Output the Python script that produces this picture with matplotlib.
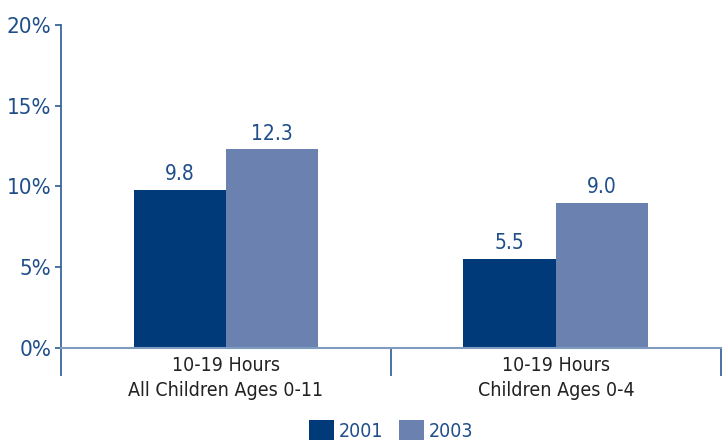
import numpy as np
import matplotlib.pyplot as plt
from matplotlib.ticker import FixedLocator, FuncFormatter

# Data
categories = ["10-19 Hours\nAll Children Ages 0-11", "10-19 Hours\nChildren Ages 0-4"]
years = ["2001", "2003"]
vals_2001 = [9.8, 5.5]
vals_2003 = [12.3, 9.0]
colors = ["#003a78", "#6b82b0"]

plt.rcParams['font.family'] = ['DejaVu Sans']
plt.rcParams['font.stretch'] = 'condensed'

fig = plt.figure(figsize=(7.28, 4.45), dpi=100)
ax = fig.add_axes([0.084, 0.218, 0.906, 0.726])

x = np.arange(len(categories))
w = 0.28
b1 = ax.bar(x - w / 2, vals_2001, w, color=colors[0], label=years[0])
b2 = ax.bar(x + w / 2, vals_2003, w, color=colors[1], label=years[1])

for bars, vals in [(b1, vals_2001), (b2, vals_2003)]:
    for r, v in zip(bars, vals):
        ax.text(r.get_x() + r.get_width() / 2, v + 0.35, f"{v:.1f}",
                ha='center', va='bottom', fontsize=15, color="#1f4e8a")

ax.set_xlim(-0.5, 1.5)
ax.set_ylim(0, 20)
ax.set_yticks([0, 5, 10, 15, 20])
ax.yaxis.set_major_formatter(FuncFormatter(lambda v, p: f"{v:.0f}%"))
ax.tick_params(axis='y', length=4, width=1.2, color="#2a5a93",
               labelsize=16, labelcolor="#1f4e8a", pad=3)

# group separators below the axis, labels as minor ticks
ax.xaxis.set_major_locator(FixedLocator([-0.5, 0.5, 1.5]))
ax.xaxis.set_major_formatter(FuncFormatter(lambda v, p: ""))
ax.xaxis.set_minor_locator(FixedLocator(x))
ax.set_xticklabels(categories, minor=True, linespacing=1.35)
ax.tick_params(axis='x', which='major', length=20, width=1.2, color="#2a5a93")
ax.tick_params(axis='x', which='minor', length=0, pad=6, labelsize=14,
               labelcolor="#222222")

for s in ['top', 'right']:
    ax.spines[s].set_visible(False)
ax.spines['left'].set_color("#2a5a93")
ax.spines['left'].set_linewidth(1.2)
ax.spines['bottom'].set_color("#7f9cc0")
ax.spines['bottom'].set_linewidth(1.5)

fig.legend(loc='lower center', ncol=2, frameon=False, fontsize=14,
           handlelength=1.3, handleheight=1.2, columnspacing=0.8,
           handletextpad=0.25, bbox_to_anchor=(0.537, -0.03),
           labelcolor="#1f4e8a")

fig.savefig("out.png", dpi=100)
